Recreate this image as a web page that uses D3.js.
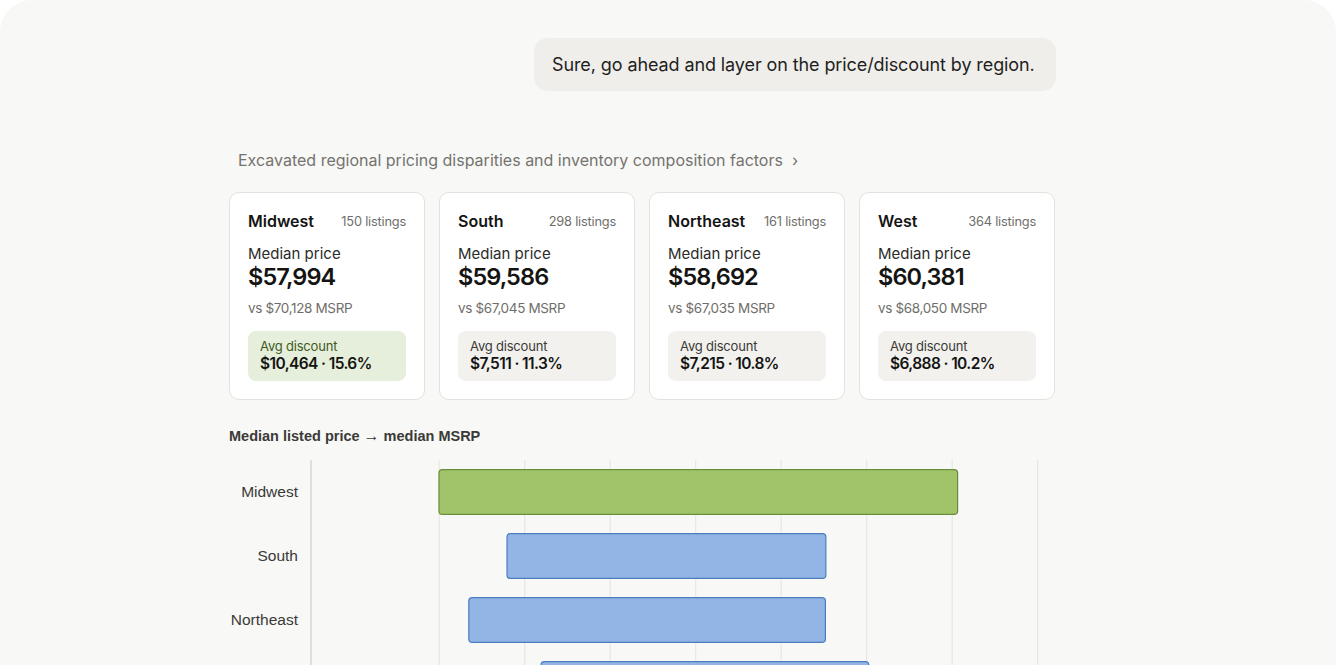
<!DOCTYPE html>
<html lang="en">
<head>
  <meta charset="UTF-8">
  <title>Regional pricing</title>
  <script src="https://d3js.org/d3.v7.min.js"></script>
  <style>
    html, body { margin: 0; padding: 0; background: #fff; }
    body { width: 1336px; height: 665px; overflow: hidden; font-family: Inter, "Noto Sans", sans-serif; }
    .frame {
      position: absolute; left: 0; top: 0; width: 1336px; height: 700px;
      background: #f8f8f6; border-radius: 32px 32px 0 0;
    }
    .bubble {
      position: absolute; left: 534px; top: 38px; width: 522px; height: 53px;
      background: #efeeeb; border-radius: 14px; box-sizing: border-box;
      padding-left: 18px; line-height: 54px; font-size: 18px; color: #1f1f1d;
      letter-spacing: -0.1px;
    }
    .header {
      position: absolute; left: 238px; top: 150px; font-size: 16px; color: #74736f;
    }
    .card {
      position: absolute; top: 192px; width: 196px; height: 208px; box-sizing: border-box;
      background: #fff; border: 1px solid #e3e2de; border-radius: 10px;
    }
    .chart-title {
      position: absolute; left: 229px; top: 427px; font-family: "Liberation Sans", Arial, sans-serif;
      font-size: 14.5px; font-weight: bold; color: #3a3a38;
    }
    svg { position: absolute; left: 0; top: 0; }
  </style>
</head>
<body>
  <div class="frame"></div>
  <div class="bubble">Sure, go ahead and layer on the price/discount by region.</div>
  <div class="header">Excavated regional pricing disparities and inventory composition factors &nbsp;›</div>
  <div id="cards"></div>
  <div class="chart-title">Median listed price <span style="font-size:16px">→</span> median MSRP</div>
  <svg id="chart" width="1336" height="665"></svg>
  <script>
    const regions = ['Midwest', 'South', 'Northeast', 'West']
    const listings = [150, 298, 161, 364]
    const medianPrice = [57994, 59586, 58692, 60381]
    const medianMsrp = [70128, 67045, 67035, 68050]
    const avgDiscount = [10464, 7511, 7215, 6888]
    const discountPct = [15.6, 11.3, 10.8, 10.2]
    const gridTicks = [58000, 60000, 62000, 64000, 66000, 68000, 70000, 72000]

    const fmt = d3.format('$,')
    const rows = regions.map((r, i) => ({
      region: r, listings: listings[i], price: medianPrice[i], msrp: medianMsrp[i],
      disc: avgDiscount[i], pct: discountPct[i], top: i === 0
    }))

    // cards
    const cards = d3.select('#cards').selectAll('div.card')
      .data(rows)
      .enter().append('div')
      .attr('class', 'card')
      .style('left', (d, i) => (229 + i * 210) + 'px')

    function abs (sel, x, y) {
      return sel.style('position', 'absolute').style('left', x + 'px').style('top', y + 'px')
    }

    abs(cards.append('div'), 18, 18)
      .style('font-size', '16px').style('font-weight', 600).style('color', '#141413')
      .text(d => d.region)
    cards.append('div')
      .style('position', 'absolute').style('right', '18px').style('top', '21px')
      .style('font-size', '12.8px').style('color', '#6f6e6a')
      .style('letter-spacing', '-0.2px')
      .text(d => d.listings + ' listings')
    abs(cards.append('div'), 18, 51)
      .style('font-size', '15px').style('color', '#2b2b29')
      .text('Median price')
    abs(cards.append('div'), 18, 69)
      .style('font-size', '23.5px').style('font-weight', 600).style('color', '#141413')
      .style('letter-spacing', '-0.9px')
      .text(d => fmt(d.price))
    abs(cards.append('div'), 18, 107)
      .style('font-size', '13.5px').style('color', '#6f6e6a')
      .style('letter-spacing', '-0.35px')
      .text(d => 'vs ' + fmt(d.msrp) + ' MSRP')

    const box = abs(cards.append('div'), 18, 138)
      .style('width', '158px').style('height', '50px').style('border-radius', '8px')
      .style('background', d => d.top ? '#e6efdb' : '#f2f1ed')
    abs(box.append('div'), 12, 7)
      .style('font-size', '13px').style('letter-spacing', '-0.2px')
      .style('color', d => d.top ? '#3e5a22' : '#3a3a37')
      .text('Avg discount')
    abs(box.append('div'), 12, 23)
      .style('font-size', '15.5px').style('font-weight', 600).style('color', '#141413')
      .style('letter-spacing', '-0.6px')
      .text(d => fmt(d.disc) + ' · ' + d.pct.toFixed(1) + '%')

    // bar chart
    const svg = d3.select('#chart')
    const x = d3.scaleLinear().domain([55000, 72500]).range([311, 1059])
    const y = d3.scaleBand().domain(regions).range([460, 716])
      .paddingInner(0.3).paddingOuter(0.15)

    svg.append('g')
      .selectAll('line')
      .data(gridTicks)
      .enter().append('line')
      .attr('x1', d => x(d)).attr('x2', d => x(d))
      .attr('y1', 460).attr('y2', 716)
      .attr('stroke', '#e6e6e3').attr('stroke-width', 1.2)

    svg.append('line')
      .attr('x1', x(55000)).attr('x2', x(55000))
      .attr('y1', 460).attr('y2', 716)
      .attr('stroke', '#cfcfcc').attr('stroke-width', 1.2)

    svg.append('g')
      .selectAll('rect')
      .data(rows)
      .enter().append('rect')
      .attr('x', d => x(d.price))
      .attr('y', d => y(d.region))
      .attr('width', d => x(d.msrp) - x(d.price))
      .attr('height', y.bandwidth())
      .attr('rx', 3.5)
      .attr('fill', d => d.top ? '#a1c46a' : '#92b5e5')
      .attr('stroke', d => d.top ? '#688e3b' : '#4a7dc2')
      .attr('stroke-width', 1.2)

    // West label sits below the visible window, as in the original
    svg.append('g')
      .selectAll('text')
      .data(regions.filter(r => y(r) + y.bandwidth() / 2 < 665))
      .enter().append('text')
      .attr('x', 298)
      .attr('y', d => y(d) + y.bandwidth() / 2)
      .attr('dy', '0.35em')
      .attr('text-anchor', 'end')
      .attr('font-family', '"Liberation Sans", Arial, sans-serif')
      .attr('font-size', 15.5)
      .attr('fill', '#3a3a38')
      .text(d => d)
  </script>
</body>
</html>
